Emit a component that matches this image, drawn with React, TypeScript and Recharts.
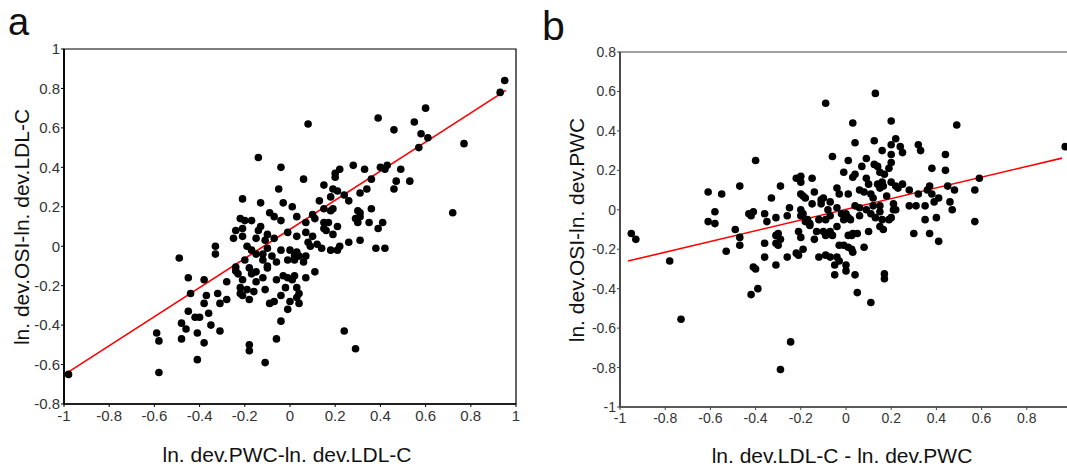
import React from "react";
import {
  ScatterChart,
  Scatter,
  XAxis,
  YAxis,
  ReferenceLine,
  ReferenceArea,
} from "recharts";

// panel a: ln. dev.PWC-ln. dev.LDL-C vs ln. dev.OSI-ln. dev.LDL-C
const pointsA: [number, number][] = [
  [-0.14, 0.45], [-0.04, 0.4], [-0.05, 0.29], [-0.21, 0.24], [-0.13, 0.22], [-0.03, 0.22],
  [0.01, 0.2], [-0.09, 0.17], [-0.07, 0.15], [-0.04, 0.13], [-0.22, 0.14], [-0.2, 0.13],
  [-0.17, 0.13], [0.03, 0.15], [-0.13, 0.1], [-0.14, 0.08], [-0.24, 0.08], [-0.21, 0.09],
  [-0.1, 0.06], [-0.01, 0.07], [-0.25, 0.04], [-0.21, 0.05], [-0.15, 0.04], [-0.11, 0.03],
  [-0.07, 0.04], [0.03, 0.05], [-0.33, 0.0], [-0.33, -0.04], [-0.19, 0.0], [-0.17, -0.02],
  [-0.15, -0.04], [-0.1, -0.01], [-0.12, -0.04], [-0.08, -0.05], [-0.04, -0.02], [0.0, -0.02],
  [0.03, -0.03], [-0.49, -0.06], [-0.2, -0.07], [-0.12, -0.07], [-0.1, -0.1], [-0.06, -0.08],
  [-0.01, -0.07], [0.02, -0.07], [-0.24, -0.105], [-0.24, -0.125], [-0.23, -0.14], [-0.18, -0.11],
  [-0.15, -0.13], [-0.17, -0.14], [-0.1, -0.11], [-0.45, -0.16], [-0.38, -0.17], [-0.28, -0.18],
  [-0.21, -0.17], [-0.15, -0.18], [-0.12, -0.16], [-0.06, -0.17], [-0.03, -0.15], [-0.01, -0.16],
  [0.02, -0.15], [-0.22, -0.21], [-0.19, -0.22], [-0.16, -0.23], [-0.11, -0.22], [-0.02, -0.21],
  [0.03, -0.21], [-0.44, -0.24], [-0.37, -0.25], [-0.38, -0.29], [-0.32, -0.24], [-0.31, -0.29],
  [-0.28, -0.27], [-0.22, -0.24], [-0.21, -0.25], [-0.18, -0.27], [-0.09, -0.29], [-0.04, -0.25],
  [0.0, -0.28], [-0.01, -0.32], [0.03, -0.26], [-0.45, -0.33], [-0.42, -0.36], [-0.4, -0.36],
  [-0.36, -0.34], [-0.48, -0.39], [-0.46, -0.42], [-0.41, -0.44], [-0.35, -0.4], [-0.31, -0.43],
  [-0.04, -0.38], [-0.59, -0.44],
  [0.57, 0.5], [0.28, 0.41], [0.33, 0.39], [0.22, 0.39], [0.2, 0.37], [0.2, 0.35],
  [0.4, 0.4], [0.43, 0.41], [0.42, 0.39], [0.49, 0.39], [0.06, 0.34], [0.36, 0.34],
  [0.47, 0.33], [0.53, 0.33], [0.46, 0.29], [0.15, 0.31], [0.19, 0.29], [0.21, 0.28],
  [0.31, 0.27], [0.34, 0.29], [0.24, 0.26], [0.26, 0.23], [0.18, 0.25], [0.13, 0.23],
  [0.19, 0.19], [0.18, 0.18], [0.15, 0.19], [0.3, 0.18], [0.31, 0.17], [0.29, 0.14],
  [0.31, 0.15], [0.3, 0.12], [0.36, 0.19], [0.1, 0.16], [0.11, 0.14], [0.07, 0.12],
  [0.15, 0.12], [0.17, 0.12], [0.15, 0.09], [0.16, 0.08], [0.21, 0.1], [0.35, 0.12],
  [0.41, 0.12], [0.39, 0.09], [0.19, 0.06], [0.07, 0.07], [0.1, 0.05], [0.08, 0.02],
  [0.09, 0.0], [0.12, 0.01], [0.14, -0.01], [0.26, 0.02], [0.31, 0.03], [0.18, -0.02],
  [0.22, 0.0], [0.21, -0.02], [0.38, -0.01], [0.42, -0.01], [0.02, -0.05], [0.04, -0.05],
  [0.07, -0.05], [0.06, -0.08], [0.11, -0.13], [0.07, -0.16], [0.01, -0.17], [0.04, -0.24],
  [0.04, -0.29], [0.24, -0.43],
  [0.95, 0.84], [0.93, 0.78], [0.6, 0.7], [0.39, 0.65], [0.08, 0.62], [0.55, 0.63],
  [0.46, 0.59], [0.58, 0.57], [0.61, 0.55], [0.77, 0.52], [0.72, 0.17], [0.29, -0.52],
  [-0.06, -0.47], [-0.98, -0.65], [-0.58, -0.64], [-0.58, -0.48], [-0.48, -0.47], [-0.38, -0.49],
  [-0.41, -0.575], [-0.18, -0.5], [-0.18, -0.53], [-0.11, -0.59], [-0.07, -0.28],
];

// panel b: ln. dev.LDL-C - ln. dev.PWC vs ln. dev.OSI-ln. dev.PWC
const pointsB: [number, number][] = [
  [-0.4, 0.25], [-0.47, 0.12], [-0.61, 0.09], [-0.55, 0.08], [-0.33, 0.06], [-0.29, 0.12],
  [-0.22, 0.16], [-0.2, 0.17], [-0.15, 0.16], [-0.2, 0.08], [-0.19, 0.07], [-0.14, 0.09],
  [-0.58, -0.01], [-0.61, -0.06], [-0.58, -0.07], [-0.43, -0.02], [-0.41, -0.01], [-0.36, -0.02],
  [-0.35, -0.06], [-0.31, -0.04], [-0.25, 0.01], [-0.26, -0.03], [-0.2, 0.0], [-0.19, -0.02],
  [-0.15, 0.03], [-0.17, -0.05], [-0.49, -0.1], [-0.95, -0.12], [-0.93, -0.15], [-0.78, -0.26],
  [-0.73, -0.555], [-0.47, -0.14], [-0.47, -0.18], [-0.53, -0.21], [-0.36, -0.17], [-0.31, -0.13],
  [-0.3, -0.12], [-0.29, -0.15], [-0.31, -0.17], [-0.3, -0.18], [-0.36, -0.24], [-0.31, -0.28],
  [-0.41, -0.29], [-0.4, -0.3], [-0.42, -0.43], [-0.39, -0.4], [-0.26, -0.24], [-0.22, -0.22],
  [-0.21, -0.23], [-0.21, -0.11], [-0.2, -0.14], [-0.19, -0.2], [-0.16, -0.08], [-0.14, -0.15],
  [-0.12, -0.24], [-0.245, -0.67], [-0.29, -0.81],
  [-0.06, 0.27], [-0.01, 0.19], [0.01, 0.25], [-0.2, 0.14], [-0.18, 0.06], [-0.11, 0.05],
  [-0.1, 0.06], [-0.11, 0.03], [-0.04, 0.11], [-0.03, 0.08], [-0.07, 0.04], [0.01, 0.08],
  [-0.42, -0.03], [-0.2, -0.03], [-0.16, -0.07], [-0.18, -0.06], [-0.08, 0.0], [-0.07, -0.03],
  [-0.09, -0.05], [-0.04, 0.01], [-0.02, -0.02], [-0.01, -0.05], [0.01, -0.04], [-0.12, -0.05],
  [-0.13, -0.11], [-0.1, -0.11], [-0.09, -0.13], [-0.06, -0.13], [-0.07, -0.11], [-0.04, -0.085],
  [0.01, -0.13], [-0.03, -0.18], [-0.01, -0.18], [0.01, -0.19], [-0.09, -0.23], [-0.07, -0.24],
  [-0.04, -0.24], [-0.03, -0.26], [-0.05, -0.28], [0.0, -0.28], [0.0, -0.31], [-0.05, -0.33],
  [0.03, 0.44], [0.2, 0.45], [0.49, 0.43], [0.13, 0.59], [-0.09, 0.54], [0.04, 0.34],
  [0.125, 0.35], [0.22, 0.36], [0.2, 0.33], [0.24, 0.32], [0.25, 0.29], [0.32, 0.33],
  [0.33, 0.3], [0.16, 0.3], [0.44, 0.28], [0.2, 0.28], [0.2, 0.24], [0.09, 0.26],
  [0.07, 0.22], [0.125, 0.23], [0.14, 0.22], [0.15, 0.19], [0.17, 0.18], [0.19, 0.21],
  [0.38, 0.21], [0.44, 0.2], [0.04, 0.18], [0.03, 0.165], [0.09, 0.16], [0.1, 0.13],
  [0.16, 0.14], [0.15, 0.11], [0.165, 0.12], [0.14, 0.13], [0.2, 0.14], [0.22, 0.12],
  [0.23, 0.11], [0.25, 0.13], [0.28, 0.1], [0.32, 0.08], [0.37, 0.12], [0.36, 0.1],
  [0.38, 0.08], [0.45, 0.12], [0.48, 0.1], [0.57, 0.1], [0.59, 0.16], [0.41, 0.06],
  [0.06, 0.1], [0.08, 0.09], [0.11, 0.08], [0.12, 0.06], [0.18, 0.07], [0.04, 0.02],
  [0.06, 0.01], [0.09, 0.0], [0.12, 0.02], [0.15, 0.02], [0.15, -0.01], [0.21, 0.03],
  [0.21, 0.0], [0.22, 0.0], [0.2, -0.04], [0.28, 0.02], [0.31, 0.02], [0.35, 0.02],
  [0.39, 0.04], [0.46, 0.04], [0.47, 0.0], [0.0, -0.02], [0.02, -0.05], [0.06, -0.03],
  [0.11, -0.02], [0.13, -0.04], [0.16, -0.05], [0.19, -0.05], [0.35, -0.05], [0.4, -0.04],
  [0.57, -0.06], [0.15, -0.085], [0.165, -0.1], [0.1, -0.11], [0.03, -0.12], [0.05, -0.12],
  [0.3, -0.12], [0.37, -0.12], [0.41, -0.16], [0.025, -0.2], [0.03, -0.215], [0.08, -0.19],
  [0.04, -0.33], [0.17, -0.325], [0.17, -0.35], [0.05, -0.42], [0.11, -0.47], [0.97, 0.32],
  [0.025, -0.13],
];

// fitted regression lines (end points)
const fitA = [{ x: -0.99, y: -0.645 }, { x: 0.955, y: 0.79 }];
const fitB = [{ x: -0.965, y: -0.26 }, { x: 0.956, y: 0.262 }];

const xTicksA = [-1, -0.8, -0.6, -0.4, -0.2, 0, 0.2, 0.4, 0.6, 0.8, 1];
const yTicksA = [-0.8, -0.6, -0.4, -0.2, 0, 0.2, 0.4, 0.6, 0.8, 1];
const xTicksB = [-1, -0.8, -0.6, -0.4, -0.2, 0, 0.2, 0.4, 0.6, 0.8];
const yTicksB = [-1, -0.8, -0.6, -0.4, -0.2, 0, 0.2, 0.4, 0.6, 0.8];

const toRows = (pts: [number, number][]) => pts.map(([x, y]) => ({ x, y }));

const Dot = (props: any) => (
  <circle cx={props.cx} cy={props.cy} r={3.8} fill="#000" />
);

const FONT = "'Liberation Sans', Arial, Helvetica, sans-serif";

interface PanelProps {
  points: [number, number][];
  fit: { x: number; y: number }[];
  xTicks: number[];
  yTicks: number[];
  xDomain: [number, number];
  yDomain: [number, number];
  width: number;
  margin: { top: number; right: number; bottom: number; left: number };
  yAxisWidth: number;
  axisColor: string;
  tickFont: number;
}

function Panel(p: PanelProps) {
  return (
    <ScatterChart width={p.width} height={471} margin={p.margin}>
      <ReferenceArea
        x1={p.xDomain[0]}
        x2={p.xDomain[1]}
        y1={p.yDomain[0]}
        y2={p.yDomain[1]}
        fill="none"
        stroke={p.axisColor}
        strokeWidth={1.2}
        fillOpacity={0}
      />
      <XAxis
        type="number"
        dataKey="x"
        domain={p.xDomain}
        ticks={p.xTicks}
        interval={0}
        height={30}
        tickSize={3}
        tickMargin={3}
        axisLine={{ stroke: p.axisColor, strokeWidth: 1.5 }}
        tickLine={{ stroke: p.axisColor }}
        tick={{ fill: "#333", fontSize: p.tickFont }}
        allowDataOverflow
      />
      <YAxis
        type="number"
        dataKey="y"
        domain={p.yDomain}
        ticks={p.yTicks}
        interval={0}
        width={p.yAxisWidth}
        tickSize={3}
        tickMargin={1}
        axisLine={{ stroke: p.axisColor, strokeWidth: 1.8 }}
        tickLine={{ stroke: p.axisColor }}
        tick={{ fill: "#333", fontSize: p.tickFont }}
        allowDataOverflow
      />
      <Scatter data={toRows(p.points)} shape={Dot} isAnimationActive={false} />
      <ReferenceLine
        segment={p.fit}
        stroke="#ff0000"
        strokeWidth={1.6}
        ifOverflow="extendDomain"
      />
    </ScatterChart>
  );
}

const abs = (s: React.CSSProperties): React.CSSProperties => ({
  position: "absolute",
  whiteSpace: "nowrap",
  lineHeight: 1,
  color: "#111",
  ...s,
});

export default function App() {
  return (
    <div
      style={{
        position: "absolute",
        left: 0,
        top: 0,
        width: 1067,
        height: 471,
        overflow: "hidden",
        background: "#fff",
        fontFamily: FONT,
      }}
    >
      <div style={{ position: "absolute", left: 0, top: 0 }}>
        <Panel
          points={pointsA}
          fit={fitA}
          xTicks={xTicksA}
          yTicks={yTicksA}
          xDomain={[-1, 1]}
          yDomain={[-0.8, 1]}
          width={530}
          margin={{ top: 49, right: 14, bottom: 37, left: 0 }}
          yAxisWidth={64}
          axisColor="#000"
          tickFont={15}
        />
      </div>
      <div style={{ position: "absolute", left: 540, top: 0 }}>
        <Panel
          points={pointsB}
          fit={fitB}
          xTicks={xTicksB}
          yTicks={yTicksB}
          xDomain={[-1, 1]}
          yDomain={[-1, 0.8]}
          width={545}
          margin={{ top: 52, right: 13, bottom: 34, left: 0 }}
          yAxisWidth={80}
          axisColor="#444"
          tickFont={14}
        />
      </div>

      {/* panel letters */}
      <div style={abs({ left: 8, top: 1, fontSize: 38, lineHeight: "normal", fontWeight: 300 })}>
        a
      </div>
      <div style={abs({ left: 542, top: 6, fontSize: 41, fontWeight: 300 })}>b</div>

      {/* axis titles */}
      <div style={abs({ left: 287, top: 444, fontSize: 21, transform: "translateX(-50%)" })}>
        ln. dev.PWC-ln. dev.LDL-C
      </div>
      <div
        style={abs({
          left: 21,
          top: 227,
          fontSize: 21,
          transform: "translate(-50%, -50%) rotate(-90deg)",
        })}
      >
        ln. dev.OSI-ln. dev.LDL-C
      </div>
      <div style={abs({ left: 842, top: 445, fontSize: 21, transform: "translateX(-50%)" })}>
        ln. dev.LDL-C - ln. dev.PWC
      </div>
      <div
        style={abs({
          left: 576,
          top: 230,
          fontSize: 21,
          transform: "translate(-50%, -50%) rotate(-90deg)",
        })}
      >
        ln. dev.OSI-ln. dev.PWC
      </div>
    </div>
  );
}
